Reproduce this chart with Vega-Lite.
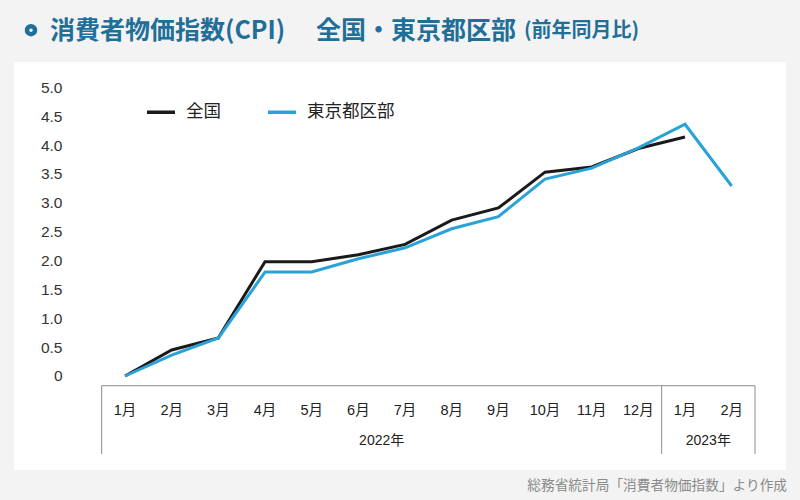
{
  "$schema": "https://vega.github.io/schema/vega-lite/v6.json",
  "width": 772,
  "height": 408,
  "autosize": {"type": "none"},
  "padding": {"left": 14, "top": 62, "right": 14, "bottom": 30},
  "background": "#f3f3f3",
  "config": {
    "view": {"fill": "white", "stroke": null},
    "font": "Liberation Sans, Noto Sans CJK JP"
  },
  "datasets": {
    "cpi": [
      {"date": "2022-01", "series": "全国", "value": 0.0},
      {"date": "2022-02", "series": "全国", "value": 0.45},
      {"date": "2022-03", "series": "全国", "value": 0.66},
      {"date": "2022-04", "series": "全国", "value": 1.98},
      {"date": "2022-05", "series": "全国", "value": 1.98},
      {"date": "2022-06", "series": "全国", "value": 2.1},
      {"date": "2022-07", "series": "全国", "value": 2.28},
      {"date": "2022-08", "series": "全国", "value": 2.7},
      {"date": "2022-09", "series": "全国", "value": 2.91},
      {"date": "2022-10", "series": "全国", "value": 3.53},
      {"date": "2022-11", "series": "全国", "value": 3.62},
      {"date": "2022-12", "series": "全国", "value": 3.94},
      {"date": "2023-01", "series": "全国", "value": 4.14},
      {"date": "2022-01", "series": "東京都区部", "value": 0.0},
      {"date": "2022-02", "series": "東京都区部", "value": 0.36},
      {"date": "2022-03", "series": "東京都区部", "value": 0.66},
      {"date": "2022-04", "series": "東京都区部", "value": 1.8},
      {"date": "2022-05", "series": "東京都区部", "value": 1.8},
      {"date": "2022-06", "series": "東京都区部", "value": 2.03},
      {"date": "2022-07", "series": "東京都区部", "value": 2.22},
      {"date": "2022-08", "series": "東京都区部", "value": 2.55},
      {"date": "2022-09", "series": "東京都区部", "value": 2.76},
      {"date": "2022-10", "series": "東京都区部", "value": 3.41},
      {"date": "2022-11", "series": "東京都区部", "value": 3.6},
      {"date": "2022-12", "series": "東京都区部", "value": 3.95},
      {"date": "2023-01", "series": "東京都区部", "value": 4.36},
      {"date": "2023-02", "series": "東京都区部", "value": 3.29}
    ],
    "years": [
      {"date": "2022-06", "label": "2022年"},
      {"date": "2023-01", "label": "2023年"}
    ],
    "dividers": [
      {"date": "2022-01"},
      {"date": "2023-01"}
    ],
    "one": [{}]
  },
  "layer": [
    {
      "data": {"name": "cpi"},
      "mark": {"type": "line", "strokeWidth": 3},
      "encoding": {
        "x": {
          "field": "date",
          "type": "ordinal",
          "scale": {"type": "band", "paddingInner": 0, "paddingOuter": 0, "range": [87.7, 741]},
          "axis": {
            "orient": "bottom",
            "offset": -67,
            "domain": false,
            "ticks": false,
            "labelPadding": 0,
            "labelAngle": 0,
            "labelFontSize": 14.5,
            "labelColor": "#222222",
            "title": null,
            "labelExpr": "toNumber(slice(datum.value, 5)) + '月'"
          }
        },
        "y": {
          "field": "value",
          "type": "quantitative",
          "scale": {"domain": [-1.628, 5.438], "nice": false, "zero": false},
          "axis": {
            "orient": "left",
            "offset": -48,
            "domain": false,
            "ticks": false,
            "grid": false,
            "labelPadding": 0,
            "values": [0, 0.5, 1, 1.5, 2, 2.5, 3, 3.5, 4, 4.5, 5],
            "labelFontSize": 15.5,
            "labelColor": "#333333",
            "title": null,
            "labelExpr": "datum.value == 0 ? '0' : format(datum.value, '.1f')"
          }
        },
        "color": {
          "field": "series",
          "type": "nominal",
          "scale": {"domain": ["全国", "東京都区部"], "range": ["#1a1a1a", "#29a2d8"]},
          "legend": {
            "orient": "none",
            "legendX": 131,
            "legendY": 34,
            "direction": "horizontal",
            "title": null,
            "symbolType": "stroke",
            "symbolSize": 784,
            "symbolStrokeWidth": 3.5,
            "labelFont": "Noto Sans CJK JP",
            "labelFontSize": 17.5,
            "labelColor": "#222222",
            "labelOffset": 9,
            "columnPadding": 40
          }
        }
      }
    },
    {
      "data": {"name": "one"},
      "mark": {"type": "rule", "color": "#8c8c8c", "strokeWidth": 1},
      "encoding": {
        "x": {"datum": "2022-01", "type": "ordinal", "bandPosition": 0},
        "x2": {"datum": "2023-02", "bandPosition": 1},
        "y": {"datum": -0.168, "type": "quantitative"}
      }
    },
    {
      "data": {"name": "dividers"},
      "mark": {"type": "rule", "color": "#8c8c8c", "strokeWidth": 1},
      "encoding": {
        "x": {"field": "date", "type": "ordinal", "bandPosition": 0},
        "y": {"datum": -0.168, "type": "quantitative"},
        "y2": {"datum": -1.351}
      }
    },
    {
      "data": {"name": "one"},
      "mark": {"type": "rule", "color": "#8c8c8c", "strokeWidth": 1},
      "encoding": {
        "x": {"datum": "2023-02", "type": "ordinal", "bandPosition": 1},
        "y": {"datum": -0.168, "type": "quantitative"},
        "y2": {"datum": -1.351}
      }
    },
    {
      "data": {"name": "years"},
      "mark": {"type": "text", "fontSize": 14, "color": "#222222", "baseline": "middle", "align": "center"},
      "encoding": {
        "x": {"field": "date", "type": "ordinal", "bandPosition": 1},
        "y": {"datum": -1.12, "type": "quantitative"},
        "text": {"field": "label"}
      }
    },
    {
      "data": {"name": "one"},
      "mark": {"type": "text", "fontSize": 13.7, "color": "#8a8a8a", "baseline": "middle", "align": "right", "font": "Noto Sans CJK JP", "text": "総務省統計局「消費者物価指数」より作成"},
      "encoding": {
        "x": {"datum": "2023-02", "type": "ordinal", "bandPosition": 1.687},
        "y": {"datum": -1.905, "type": "quantitative"}
      }
    },
    {
      "data": {"name": "one"},
      "mark": {"type": "text", "fontSize": 25, "fontWeight": "bold", "color": "#1f6f98", "baseline": "middle", "align": "left", "font": "Noto Sans CJK JP", "text": "消費者物価指数(CPI) 　全国・東京都区部"},
      "encoding": {
        "x": {"datum": "2022-01", "type": "ordinal", "bandPosition": -1.108},
        "y": {"datum": 5.975, "type": "quantitative"}
      }
    },
    {
      "data": {"name": "one"},
      "mark": {"type": "text", "fontSize": 20, "fontWeight": "bold", "color": "#1f6f98", "baseline": "middle", "align": "left", "font": "Noto Sans CJK JP", "text": "(前年同月比)"},
      "encoding": {
        "x": {"datum": "2022-09", "type": "ordinal", "bandPosition": 1.05},
        "y": {"datum": 5.975, "type": "quantitative"}
      }
    },
    {
      "data": {"name": "one"},
      "mark": {"type": "point", "shape": "circle", "filled": false, "size": 64, "strokeWidth": 4.5, "color": "#1f6f98", "opacity": 1},
      "encoding": {
        "x": {"datum": "2022-01", "type": "ordinal", "bandPosition": -1.515},
        "y": {"datum": 5.99, "type": "quantitative"}
      }
    }
  ]
}
